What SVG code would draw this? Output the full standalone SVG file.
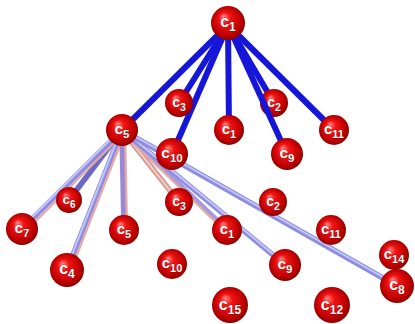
<svg xmlns="http://www.w3.org/2000/svg" width="415" height="324" viewBox="0 0 415 324">
<defs>
<radialGradient id="ball" cx="0.5" cy="0.5" r="0.55" fx="0.36" fy="0.3">
<stop offset="0" stop-color="#ff8a8a"/>
<stop offset="0.3" stop-color="#f01414"/>
<stop offset="0.75" stop-color="#c00000"/>
<stop offset="1" stop-color="#780000"/>
</radialGradient>
<style>
.b{fill:url(#ball)}
.t{fill:#fff;font-family:"Liberation Sans",Arial,sans-serif;font-weight:bold;text-anchor:middle;stroke:#600;stroke-width:0.4px;paint-order:stroke}
.e1{stroke:#1616d8;stroke-width:6;stroke-linecap:butt;fill:none}
.e2{stroke:#8c8ce2;stroke-width:5.5;fill:none}
.e2h{stroke:#c8c8f8;stroke-width:2;fill:none}
.e2p{stroke:#e6aaa4;stroke-width:2.2;fill:none}
</style>
</defs>
<rect width="415" height="324" fill="#fff"/>
<g id="connectors">
<g>
<line class="e2" x1="122" y1="130" x2="69" y2="200" style="stroke:#6a6ac4"/>
<line class="e2" x1="122" y1="130" x2="22" y2="229"/>
<line class="e2p" x1="124" y1="133" x2="25" y2="232"/>
<line class="e2h" x1="121" y1="129" x2="21" y2="228"/>
<line class="e2" x1="122" y1="130" x2="67" y2="270"/>
<line class="e2p" x1="125" y1="132" x2="71" y2="270"/>
<line class="e2h" x1="121" y1="130" x2="66" y2="270"/>
<line class="e2" x1="122" y1="130" x2="124" y2="230" style="stroke:#9a88d6"/>
<line class="e2p" x1="125" y1="130" x2="127" y2="230"/>
<line class="e2" x1="122" y1="130" x2="179" y2="202" style="stroke:#d49a96"/>
<line class="e2h" x1="122" y1="130" x2="179" y2="202" style="stroke:#f2d2c8"/>
<line class="e2" x1="122" y1="130" x2="227" y2="230" style="stroke:#a898dc"/>
<line class="e2p" x1="122" y1="132" x2="226" y2="232"/>
<line class="e2" x1="122" y1="130" x2="285" y2="265"/>
<line class="e2h" x1="122" y1="129" x2="285" y2="264"/>
<line class="e2" x1="122" y1="130" x2="397" y2="286"/>
<line class="e2h" x1="122" y1="129" x2="397" y2="285"/>
</g>
<g>
<line class="e1" x1="228" y1="25" x2="122" y2="130"/>
<line class="e1" x1="228" y1="25" x2="179" y2="103"/>
<line class="e1" x1="228" y1="25" x2="172" y2="154"/>
<line class="e1" x1="228" y1="25" x2="229" y2="130"/>
<line class="e1" x1="228" y1="25" x2="274" y2="103"/>
<line class="e1" x1="228" y1="25" x2="334" y2="130"/>
</g>
</g>
<g id="n15"><circle class="b" cx="230" cy="305" r="18"/><text class="t" x="230" y="310" font-size="16">c<tspan dy="4" font-size="12">15</tspan></text></g>
<g id="n12"><circle class="b" cx="332" cy="305" r="18"/><text class="t" x="332" y="310" font-size="16">c<tspan dy="4" font-size="12">12</tspan></text></g>
<g id="n3a"><circle class="b" cx="179" cy="103" r="14"/><text class="t" x="179" y="107" font-size="14">c<tspan dy="4" font-size="10.5">3</tspan></text></g>
<g id="n2a"><circle class="b" cx="274" cy="103" r="14"/><text class="t" x="274" y="107" font-size="14">c<tspan dy="4" font-size="10.5">2</tspan></text></g>
<g id="n9edge"><line class="e1" x1="228" y1="25" x2="287" y2="154"/></g>
<g id="n1b"><circle class="b" cx="229" cy="130" r="15"/><text class="t" x="229" y="134" font-size="15">c<tspan dy="4" font-size="11">1</tspan></text></g>
<g id="n11a"><circle class="b" cx="334" cy="130" r="15"/><text class="t" x="334" y="134" font-size="15">c<tspan dy="4" font-size="11">11</tspan></text></g>
<g id="n10a"><circle class="b" cx="172" cy="154" r="16"/><text class="t" x="172" y="158" font-size="15.5">c<tspan dy="4" font-size="11.5">10</tspan></text></g>
<g id="n9a"><circle class="b" cx="287" cy="154" r="16"/><text class="t" x="287" y="158" font-size="15.5">c<tspan dy="4" font-size="11.5">9</tspan></text></g>
<g id="n3b"><circle class="b" cx="179" cy="202" r="14"/><text class="t" x="179" y="206" font-size="14">c<tspan dy="4" font-size="10.5">3</tspan></text></g>
<g id="n2b"><circle class="b" cx="273" cy="202" r="14"/><text class="t" x="273" y="206" font-size="14">c<tspan dy="4" font-size="10.5">2</tspan></text></g>
<g id="n6"><circle class="b" cx="69" cy="200" r="13"/><text class="t" x="69" y="204" font-size="13.5">c<tspan dy="4" font-size="10">6</tspan></text></g>
<g id="n1c"><circle class="b" cx="227" cy="230" r="15"/><text class="t" x="227" y="234" font-size="15">c<tspan dy="4" font-size="11">1</tspan></text></g>
<g id="n11b"><circle class="b" cx="331" cy="230" r="15"/><text class="t" x="331" y="234" font-size="15">c<tspan dy="4" font-size="11">11</tspan></text></g>
<g id="n14"><circle class="b" cx="394" cy="255" r="15"/><text class="t" x="394" y="259" font-size="15">c<tspan dy="4" font-size="11">14</tspan></text></g>
<g id="n10b"><circle class="b" cx="172" cy="264" r="15"/><text class="t" x="172" y="268" font-size="15">c<tspan dy="4" font-size="11">10</tspan></text></g>
<g id="n5b"><circle class="b" cx="124" cy="230" r="15"/><text class="t" x="124" y="234" font-size="15">c<tspan dy="4" font-size="11">5</tspan></text></g>
<g id="n9b"><circle class="b" cx="285" cy="265" r="16"/><text class="t" x="285" y="269" font-size="15.5">c<tspan dy="4" font-size="11.5">9</tspan></text></g>
<g id="n8"><circle class="b" cx="397" cy="286" r="17"/><text class="t" x="397" y="290" font-size="16">c<tspan dy="4" font-size="12">8</tspan></text></g>
<g id="n7"><circle class="b" cx="22" cy="229" r="16"/><text class="t" x="22" y="233" font-size="15.5">c<tspan dy="4" font-size="11.5">7</tspan></text></g>
<g id="n4"><circle class="b" cx="67" cy="270" r="17"/><text class="t" x="67" y="274" font-size="16">c<tspan dy="4" font-size="12">4</tspan></text></g>
<g id="n5a"><circle class="b" cx="122" cy="130" r="16"/><text class="t" x="122" y="134" font-size="15.5">c<tspan dy="4" font-size="11.5">5</tspan></text></g>
<g id="n1a"><circle class="b" cx="228" cy="23" r="17"/><text class="t" x="228" y="27" font-size="16">c<tspan dy="4" font-size="12">1</tspan></text></g>
</svg>
